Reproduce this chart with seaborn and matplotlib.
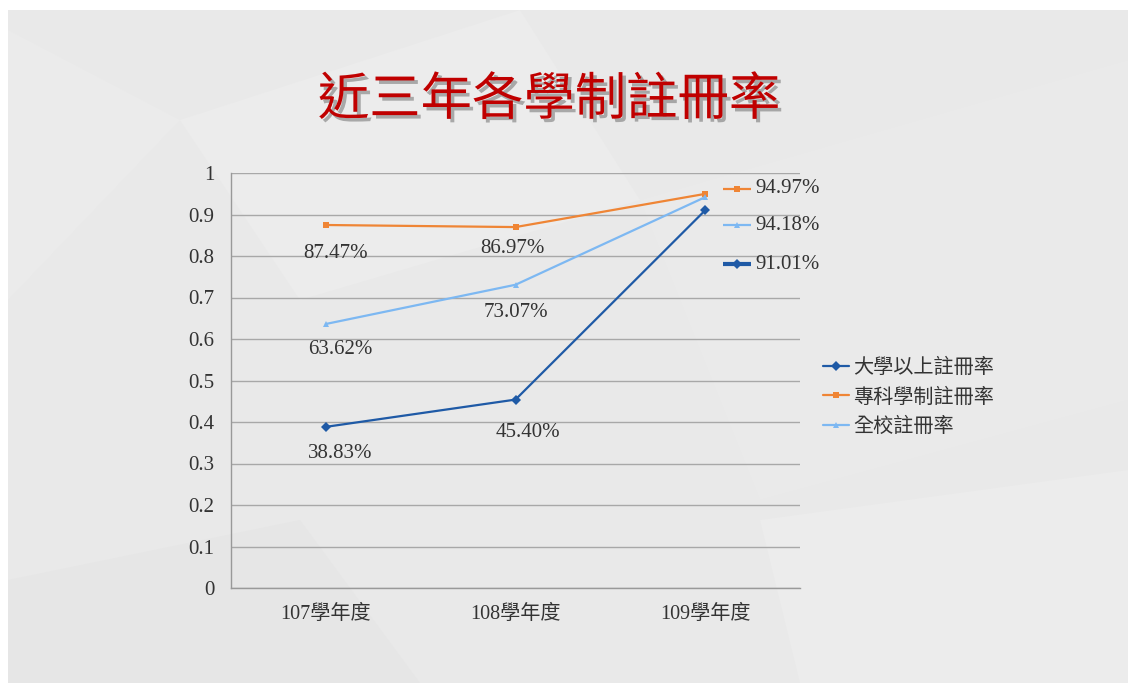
import numpy as np
import pandas as pd
import matplotlib
matplotlib.use("Agg")
import matplotlib.pyplot as plt
import matplotlib.patheffects as pe
from matplotlib.patches import Rectangle, Polygon
from matplotlib.transforms import ScaledTranslation
from matplotlib.ticker import FixedLocator, FuncFormatter
import seaborn as sns

# ---- data ----
categories = ["107學年度", "108學年度", "109學年度"]
series_names = ["大學以上註冊率", "專科學制註冊率", "全校註冊率"]
univ_rate = [0.3883, 0.4540, 0.9101]
college_rate = [0.8747, 0.8697, 0.9497]
school_rate = [0.6362, 0.7307, 0.9418]
y_ticks = [0, 0.1, 0.2, 0.3, 0.4, 0.5, 0.6, 0.7, 0.8, 0.9, 1]
title_text = "近三年各學制註冊率"

colors = {"大學以上註冊率": "#1f5aa6", "專科學制註冊率": "#ef8535", "全校註冊率": "#7db8f2"}
markers = {"大學以上註冊率": "D", "專科學制註冊率": "s", "全校註冊率": "^"}

rows = []
for name, vals in zip(series_names, [univ_rate, college_rate, school_rate]):
    for i, (c, v) in enumerate(zip(categories, vals)):
        rows.append({"series": name, "pos": i, "category": c, "value": v})
df = pd.DataFrame(rows)

sns.set_style("white")
plt.rcParams["font.family"] = ["Liberation Serif", "Noto Sans CJK TC", "DejaVu Sans"]

W, H = 1136, 691
fig = plt.figure(figsize=(W / 100, H / 100), dpi=100)
fig.patch.set_facecolor("white")

# background panel
fig.patches.append(Rectangle((8 / W, 8 / H), 1120 / W, 673 / H, transform=fig.transFigure,
                             facecolor="#e9e9e9", edgecolor="none", zorder=-10))
polys = [
    ([(8, 30), (180, 120), (8, 300)], "#ebebeb"),
    ([(180, 120), (520, 10), (640, 200), (300, 300)], "#ececec"),
    ([(640, 200), (1128, 60), (1128, 400), (760, 500)], "#eaeaea"),
    ([(8, 580), (300, 520), (420, 683), (8, 683)], "#e6e6e6"),
    ([(760, 520), (1128, 470), (1128, 683), (800, 683)], "#ececec"),
]
for pts, col in polys:
    fig.patches.append(Polygon([(x / W, 1 - y / H) for x, y in pts], closed=True,
                               transform=fig.transFigure, facecolor=col, edgecolor="none", zorder=-9))

ax = fig.add_axes([231 / W, 1 - 588 / H, (800 - 231) / W, (588 - 173) / H])
ax.set_facecolor("none")

sns.lineplot(data=df, x="pos", y="value", hue="series", style="series",
             hue_order=series_names, style_order=series_names,
             palette=colors, markers=markers, dashes=False, markersize=5,
             markeredgewidth=0, linewidth=1.6, ax=ax, legend=True, zorder=3)

ax.set_xlim(-0.5, 2.5)
ax.set_ylim(0, 1)
ax.xaxis.set_major_locator(FixedLocator([-0.5, 0.5, 1.5, 2.5]))
ax.xaxis.set_major_formatter(FuncFormatter(lambda v, p: ""))
ax.xaxis.set_minor_locator(FixedLocator(range(len(categories))))
ax.set_xticks(range(len(categories)), categories, minor=True)
ax.tick_params(axis="x", which="minor", length=0, pad=12, labelsize=14.5, labelcolor="#333333")
ax.tick_params(axis="x", which="major", length=6, color="#999999", width=1)
ax.set_yticks(y_ticks)
ax.yaxis.set_major_formatter(FuncFormatter(lambda v, p: "%g" % v))
ax.tick_params(axis="y", length=6, color="#999999", width=1, labelsize=15, labelcolor="#333333", pad=6)
ax.grid(axis="y", color="#a8a8a8", linewidth=1)
for s in ["top", "right"]:
    ax.spines[s].set_visible(False)
for s in ["left", "bottom"]:
    ax.spines[s].set_color("#999999")
    ax.spines[s].set_linewidth(1)
ax.set_xlabel("")
ax.set_ylabel("")

# data labels for first two years (below points)
offsets = {
    "大學以上註冊率": [(14, -27), (12, -33)],
    "專科學制註冊率": [(10, -29), (-3, -21)],
    "全校註冊率": [(14, -26), (0, -28)],
}
for name, vals in zip(series_names, [univ_rate, college_rate, school_rate]):
    for i in range(2):
        dx, dy = offsets[name][i]
        ax.annotate(f"{vals[i] * 100:.2f}%", (i, vals[i]), xytext=(dx * 0.72, dy * 0.72),
                    textcoords="offset points", ha="center", va="center",
                    fontsize=15, color="#333333", zorder=5)

# labels with keys for the last year
last_dy = {"大學以上註冊率": -54, "專科學制註冊率": 5, "全校註冊率": -28}
for name, vals in zip(series_names, [univ_rate, college_rate, school_rate]):
    v = vals[-1]
    dy = last_dy[name] / 100
    key_tr = ax.transData + ScaledTranslation(32 / 100, dy, fig.dpi_scale_trans)
    lw = 3 if name == "大學以上註冊率" else 1.6
    ax.plot([2], [v], marker="_", markersize=20, markeredgewidth=lw, color=colors[name],
            transform=key_tr, clip_on=False, zorder=4)
    ax.plot([2], [v], marker=markers[name], markersize=5, markeredgewidth=0, color=colors[name],
            transform=key_tr, clip_on=False, zorder=5)
    ax.text(2, v, f"{v * 100:.2f}%", transform=ax.transData + ScaledTranslation(50 / 100, dy, fig.dpi_scale_trans),
            ha="left", va="center", fontsize=15, color="#333333", clip_on=False, zorder=5)

leg = ax.legend(loc="center left", bbox_to_anchor=(805 / W, 1 - 397 / H), bbox_transform=fig.transFigure,
                frameon=False, fontsize=14.5, handlelength=1.3, handletextpad=0.2, labelspacing=0.4,
                labelcolor="#333333")
for t in leg.get_texts():
    t.set_family(["Noto Sans CJK TC"])

fig.text(549 / W, 1 - 100 / H, title_text, ha="center", va="center", fontsize=37,
         fontweight="medium", color="#c00000", family=["Noto Sans CJK TC"],
         path_effects=[pe.SimplePatchShadow(offset=(2.5, -2.5), shadow_rgbFace="#555555", alpha=0.45),
                       pe.Normal()])

fig.savefig("out.png", dpi=100, facecolor=fig.get_facecolor())
